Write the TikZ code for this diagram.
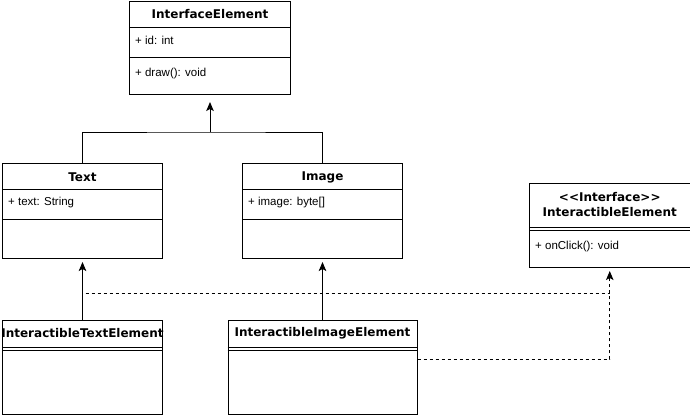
\documentclass[tikz,border=0pt]{standalone}
\usepackage{fontspec}
\setmainfont{Liberation Sans}
\newfontfamily\titlefont{DejaVu Sans}
\usetikzlibrary{arrows.meta,calc}
\begin{document}
\begin{tikzpicture}[x=1pt,y=-1pt,
  umlbox/.style={draw=black, line width=1pt, rectangle, inner sep=0pt, anchor=north west},
  ttl/.style={font=\titlefont\bfseries\fontsize{12}{14.5}\selectfont, inner sep=0pt},
  attr/.style={font=\fontsize{11.5}{13}\selectfont, anchor=west, inner sep=0pt},
  sep/.style={line width=1pt},
  inh/.style={line width=1pt, -{Stealth[length=9pt,width=7.5pt,inset=2pt]}},
  real/.style={line width=1pt, dash pattern=on 3pt off 3pt},
  realarrow/.style={line width=1pt, dash pattern=on 3pt off 3pt, -{Stealth[length=9pt,width=7.5pt,inset=2pt]}}]
\useasboundingbox (0,0) rectangle (690,416);

% InterfaceElement
\node[umlbox, minimum width=161pt, minimum height=93.5pt] (ie) at (129,0.5) {};
\node[ttl] (ieT) at ($(ie.north)+(0,13.5)$) {InterfaceElement};
\draw[sep] ($(ie.north west)+(0,26.5)$) -- ($(ie.north east)+(0,26.5)$);
\node[attr] (ieA) at ($(ie.north west)+(6,40)$) {+ id: int};
\draw[sep] ($(ie.north west)+(0,56.5)$) -- ($(ie.north east)+(0,56.5)$);
\node[attr] (ieM) at ($(ie.north west)+(6,73)$) {+ draw(): void};

% Text
\node[umlbox, minimum width=160pt, minimum height=95pt] (text) at (2,163) {};
\node[ttl] (textT) at ($(text.north)+(0,14)$) {Text};
\draw[sep] ($(text.north west)+(0,26)$) -- ($(text.north east)+(0,26)$);
\node[attr] (textA) at ($(text.north west)+(6,40)$) {+ text: String};
\draw[sep] ($(text.north west)+(0,56)$) -- ($(text.north east)+(0,56)$);

% Image
\node[umlbox, minimum width=160pt, minimum height=95pt] (image) at (242,163) {};
\node[ttl] (imageT) at ($(image.north)+(0,14)$) {Image};
\draw[sep] ($(image.north west)+(0,26)$) -- ($(image.north east)+(0,26)$);
\node[attr] (imageA) at ($(image.north west)+(6,40)$) {+ image: byte[]};
\draw[sep] ($(image.north west)+(0,56)$) -- ($(image.north east)+(0,56)$);

% InteractibleElement interface
\node[umlbox, minimum width=160.5pt, minimum height=84pt] (ielem) at (529,183) {};
\node[ttl, align=center] (ielemT) at ($(ielem.north)+(0,21.5)$) {<\kern0pt<Interface>\kern0pt>\\InteractibleElement};
\draw[sep] ($(ielem.north west)+(0,44)$) -- ($(ielem.north east)+(0,44)$);
\draw[sep] ($(ielem.north west)+(0,47.5)$) -- ($(ielem.north east)+(0,47.5)$);
\node[attr] (ielemM) at ($(ielem.north west)+(6,64)$) {+ onClick(): void};

% InteractibleTextElement
\node[umlbox, minimum width=160pt, minimum height=94pt] (ite) at (2,320) {};
\node[ttl] (iteT) at ($(ite.north)+(0,13.5)$) {InteractibleTextElement};
\draw[sep] ($(ite.north west)+(0,27)$) -- ($(ite.north east)+(0,27)$);
\draw[sep] ($(ite.north west)+(0,30.5)$) -- ($(ite.north east)+(0,30.5)$);

% InteractibleImageElement
\node[umlbox, minimum width=189pt, minimum height=94pt] (iie) at (227.5,320) {};
\node[ttl] (iieT) at ($(iie.north)+(0,13.5)$) {InteractibleImageElement};
\draw[sep] ($(iie.north west)+(0,27)$) -- ($(iie.north east)+(0,27)$);
\draw[sep] ($(iie.north west)+(0,30.5)$) -- ($(iie.north east)+(0,30.5)$);

% Generalisations
\coordinate (j) at (ie.south |- 0,132);
\draw[sep] (text.north) |- (j) -| (image.north);
\draw[inh, shorten >=7pt] (j) -- (ie.south);
\draw[inh, shorten >=3pt] (ite.north) -- (text.south);
\draw[inh, shorten >=3pt] (iie.north) -- (image.south);

% Realisations
\coordinate (d) at (ielem.south |- 0,293);
\draw[real] (ite.north) |- (d);
\draw[real] ($(iie.north east)+(0,39)$) -| (d);
\draw[realarrow, shorten >=3pt] (d) -- (ielem.south);
\end{tikzpicture}
\end{document}
